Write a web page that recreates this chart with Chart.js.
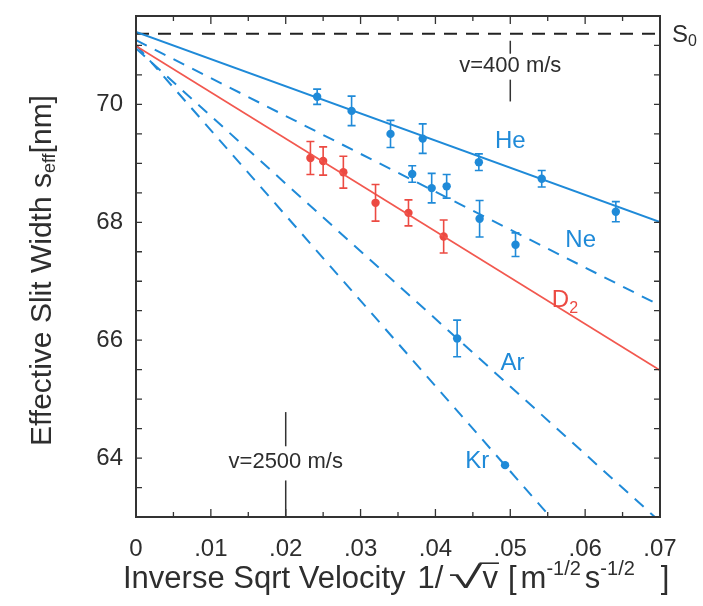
<!DOCTYPE html>
<html><head><meta charset="utf-8">
<script src="https://cdn.jsdelivr.net/npm/chart.js@4.4.1/dist/chart.umd.min.js"></script>
<style>html,body{margin:0;padding:0;background:#fff;}canvas{display:block;background:#fff;}</style>
</head><body>
<canvas id="c" width="703" height="606"></canvas>
<script>
// ---- data ----
const heX = [0.0242, 0.0288, 0.0340, 0.0383, 0.0458, 0.0542, 0.0641];
const heY = [70.13, 69.89, 69.50, 69.42, 69.02, 68.74, 68.18];
const heErr = [0.13, 0.25, 0.23, 0.25, 0.14, 0.14, 0.17];
const neX = [0.0369, 0.0395, 0.0415, 0.0459, 0.0507];
const neY = [68.82, 68.58, 68.61, 68.06, 67.62];
const neErr = [0.14, 0.25, 0.20, 0.31, 0.20];
const arX = [0.0429];
const arY = [66.03];
const arErr = [0.31];
const krX = [0.0493];
const krY = [63.88];
const krErr = [0];
const d2X = [0.0233, 0.0250, 0.0277, 0.0320, 0.0364, 0.0411];
const d2Y = [69.09, 69.04, 68.85, 68.33, 68.16, 67.76];
const d2Err = [0.28, 0.24, 0.27, 0.31, 0.22, 0.28];
// linear fits: s = intercept + slope * (1/sqrt v)
const fitNames = ['He', 'Ne', 'D2', 'Ar', 'Kr'];
const fitIntercepts = [71.23, 71.09, 70.99, 70.95, 71.01];
const fitSlopes = [-46.1, -64.3, -78.6, -114.7, -144.7];
const s0Value = 71.2;
// velocity markers
const markerX = [0.02, 0.05];
const markerText = ['v=2500 m/s', 'v=400 m/s'];
const markerTextY = [63.93, 70.66];
const markerLower = [[63.0, 63.62], [70.05, 70.42]];
const markerUpper = [[64.2, 64.78], [70.86, 71.08]];
// in-plot labels
const labelText = ['He', 'Ne', 'D', 'Ar', 'Kr'];
const labelSub = ['', '', '2', '', ''];
const labelX = [0.0500, 0.0594, 0.0573, 0.0503, 0.0456];
const labelY = [69.37, 67.70, 66.68, 65.61, 63.94];
// axes
const xMin = 0, xMax = 0.07, xStep = 0.005;
const yMin = 63, yMax = 71.5, yStep = 0.5;
const xTickValues = [0, 0.01, 0.02, 0.03, 0.04, 0.05, 0.06, 0.07];
const xTickLabels = ['0', '.01', '.02', '.03', '.04', '.05', '.06', '.07'];
const yTickValues = [64, 66, 68, 70];
const yTickLabels = ['64', '66', '68', '70'];

// ---- styling ----
const BLUE = '#1f8ad8';
const RED = '#ec4a42';
const REDLINE = '#f2584f';
const INK = '#2e2e2e';
const FONT = '"Liberation Sans", Arial, Helvetica, sans-serif';

function pts(xs, ys) { return xs.map((x, i) => ({x: x, y: ys[i]})); }
function fitLine(i) {
  return [{x: xMin, y: fitIntercepts[i]}, {x: xMax, y: fitIntercepts[i] + fitSlopes[i] * xMax}];
}

const datasets = [];
const fitStyles = {
  He: {color: BLUE, dash: []}, Ne: {color: BLUE, dash: [12, 9]}, D2: {color: REDLINE, dash: []},
  Ar: {color: BLUE, dash: [12, 9]}, Kr: {color: BLUE, dash: [12, 9]}
};
fitNames.forEach((n, i) => {
  datasets.push({label: n + ' fit', data: fitLine(i), showLine: true, pointRadius: 0,
    borderColor: fitStyles[n].color, borderWidth: n === 'D2' ? 1.8 : 2, borderDash: fitStyles[n].dash});
});
datasets.push({label: 'S0', data: [{x: xMin, y: s0Value}, {x: xMax, y: s0Value}], showLine: true,
  pointRadius: 0, borderColor: '#222', borderWidth: 2, borderDash: [13, 9]});
markerX.forEach((mx, i) => {
  [markerLower[i], markerUpper[i]].forEach(seg => {
    datasets.push({label: 'marker', data: [{x: mx, y: seg[0]}, {x: mx, y: seg[1]}], showLine: true,
      pointRadius: 0, borderColor: '#333', borderWidth: 1.5});
  });
});
const pointSets = [
  {label: 'He', xs: heX, ys: heY, err: heErr, color: BLUE},
  {label: 'Ne', xs: neX, ys: neY, err: neErr, color: BLUE},
  {label: 'Ar', xs: arX, ys: arY, err: arErr, color: BLUE},
  {label: 'Kr', xs: krX, ys: krY, err: krErr, color: BLUE},
  {label: 'D2', xs: d2X, ys: d2Y, err: d2Err, color: RED}
];
pointSets.forEach(p => {
  datasets.push({label: p.label, data: pts(p.xs, p.ys), errors: p.err, showLine: false,
    pointRadius: 4.2, pointBackgroundColor: p.color, pointBorderColor: p.color, pointBorderWidth: 0});
});

function near(a, b) { return Math.abs(a - b) < 1e-7; }

const errorBars = {
  id: 'errorBars',
  afterDatasetsDraw(chart) {
    const ctx = chart.ctx, xs = chart.scales.x, ys = chart.scales.y;
    ctx.save();
    chart.data.datasets.forEach(ds => {
      if (!ds.errors) return;
      ctx.strokeStyle = ds.pointBackgroundColor; ctx.lineWidth = 1.6;
      ds.data.forEach((p, i) => {
        const e = ds.errors[i]; if (!e) return;
        const px = xs.getPixelForValue(p.x);
        const y1 = ys.getPixelForValue(p.y - e), y2 = ys.getPixelForValue(p.y + e);
        ctx.beginPath();
        ctx.moveTo(px, y1); ctx.lineTo(px, y2);
        ctx.moveTo(px - 4, y1); ctx.lineTo(px + 4, y1);
        ctx.moveTo(px - 4, y2); ctx.lineTo(px + 4, y2);
        ctx.stroke();
      });
    });
    ctx.restore();
  }
};

function drawRich(ctx, parts, x, y, align) {
  let total = 0;
  parts.forEach(p => {
    ctx.font = p.size + 'px ' + FONT;
    p.w = ctx.measureText(p.t).width * (p.sx || 1);
    total += p.w + (p.gap || 0);
  });
  let cx = align === 'center' ? x - total / 2 : x;
  parts.forEach(p => {
    ctx.font = p.size + 'px ' + FONT;
    if (p.sx) {
      ctx.save(); ctx.translate(cx, y + (p.dy || 0)); ctx.scale(p.sx, 1);
      ctx.fillText(p.t, 0, 0); ctx.restore();
    } else {
      ctx.fillText(p.t, cx, y + (p.dy || 0));
    }
    if (p.overline) {
      ctx.save(); ctx.lineWidth = 1.6; ctx.strokeStyle = ctx.fillStyle;
      ctx.beginPath(); ctx.moveTo(cx - 3, y - p.size * 0.8); ctx.lineTo(cx + p.w + 1, y - p.size * 0.8); ctx.stroke();
      ctx.restore();
    }
    cx += p.w + (p.gap || 0);
  });
}

const frameAndText = {
  id: 'frameAndText',
  afterDraw(chart) {
    const ctx = chart.ctx, a = chart.chartArea, xs = chart.scales.x, ys = chart.scales.y;
    ctx.save();
    // ticks on all four sides, pointing inward
    ctx.strokeStyle = '#333'; ctx.lineWidth = 1.3;
    xs.ticks.forEach(t => {
      const px = xs.getPixelForValue(t.value);
      const major = xTickValues.some(v => near(v, t.value));
      const len = major ? 8 : 5;
      ctx.beginPath();
      ctx.moveTo(px, a.bottom); ctx.lineTo(px, a.bottom - len);
      ctx.moveTo(px, a.top); ctx.lineTo(px, a.top + len);
      ctx.stroke();
    });
    ys.ticks.forEach(t => {
      const py = ys.getPixelForValue(t.value);
      ctx.beginPath();
      ctx.moveTo(a.left, py); ctx.lineTo(a.left + 6, py);
      ctx.moveTo(a.right, py); ctx.lineTo(a.right - 6, py);
      ctx.stroke();
    });
    ctx.lineWidth = 2; ctx.strokeStyle = '#333';
    ctx.strokeRect(a.left, a.top, a.right - a.left, a.bottom - a.top);

    // in-plot labels
    ctx.textBaseline = 'middle';
    ctx.textAlign = 'left';
    labelText.forEach((t, i) => {
      const px = xs.getPixelForValue(labelX[i]), py = ys.getPixelForValue(labelY[i]);
      ctx.fillStyle = labelText[i] === 'D' ? RED : BLUE;
      const parts = [{t: t, size: 24}];
      if (labelSub[i]) parts.push({t: labelSub[i], size: 16, dy: 8});
      drawRich(ctx, parts, px, py, 'center');
    });
    // velocity marker texts
    ctx.fillStyle = INK;
    markerText.forEach((t, i) => {
      drawRich(ctx, [{t: t, size: 22}], xs.getPixelForValue(markerX[i]), ys.getPixelForValue(markerTextY[i]), 'center');
    });
    // S0 label
    ctx.textBaseline = 'alphabetic';
    drawRich(ctx, [{t: 'S', size: 24}, {t: '0', size: 16, dy: 4}], a.right + 12, ys.getPixelForValue(s0Value) + 8, 'left');

    // axis titles
    ctx.fillStyle = INK;
    ctx.textBaseline = 'alphabetic';
    drawRich(ctx, [
      {t: 'Inverse Sqrt Velocity', size: 31, gap: 12},
      {t: '1/', size: 31, gap: 5},
      {t: '\u221A', size: 31, sx: 2.0},
      {t: 'v', size: 31, overline: true, gap: 10},
      {t: '[', size: 31, gap: 4},
      {t: 'm', size: 31},
      {t: '-1/2', size: 20, dy: -13, gap: 4},
      {t: 's', size: 31},
      {t: '-1/2', size: 20, dy: -13, gap: 26},
      {t: ']', size: 31}
    ], a.left - 13, 588, 'left');

    ctx.save();
    ctx.translate(43, (a.top + a.bottom) / 2 + 4);
    ctx.rotate(-Math.PI / 2);
    ctx.textBaseline = 'middle';
    drawRich(ctx, [
      {t: 'Effective Slit Width s', size: 30},
      {t: 'eff', size: 18, dy: 7},
      {t: '[nm]', size: 30}
    ], 0, 0, 'center');
    ctx.restore();
    ctx.restore();
  }
};

new Chart(document.getElementById('c'), {
  type: 'scatter',
  data: {datasets: datasets},
  options: {
    responsive: false, animation: false, events: [],
    layout: {padding: {left: 0, right: 43, top: 16, bottom: 0}},
    plugins: {legend: {display: false}, tooltip: {enabled: false}},
    scales: {
      x: {
        type: 'linear', min: xMin, max: xMax,
        grid: {display: false, drawTicks: false}, border: {display: false},
        afterFit: s => { s.height = 89; s.paddingLeft = 0; s.paddingRight = 0; },
        ticks: {
          stepSize: xStep, autoSkip: false, maxRotation: 0, padding: 18, color: INK,
          font: {family: FONT, size: 24},
          callback: v => { const k = xTickValues.findIndex(t => near(t, v)); return k >= 0 ? xTickLabels[k] : ''; }
        }
      },
      y: {
        type: 'linear', min: yMin, max: yMax,
        grid: {display: false, drawTicks: false}, border: {display: false},
        afterFit: s => { s.width = 136; s.paddingTop = 0; s.paddingBottom = 0; },
        ticks: {
          stepSize: yStep, autoSkip: false, padding: 13, color: INK,
          font: {family: FONT, size: 24},
          callback: v => { const k = yTickValues.findIndex(t => near(t, v)); return k >= 0 ? yTickLabels[k] : ''; }
        }
      }
    }
  },
  plugins: [errorBars, frameAndText]
});
</script>
</body></html>
